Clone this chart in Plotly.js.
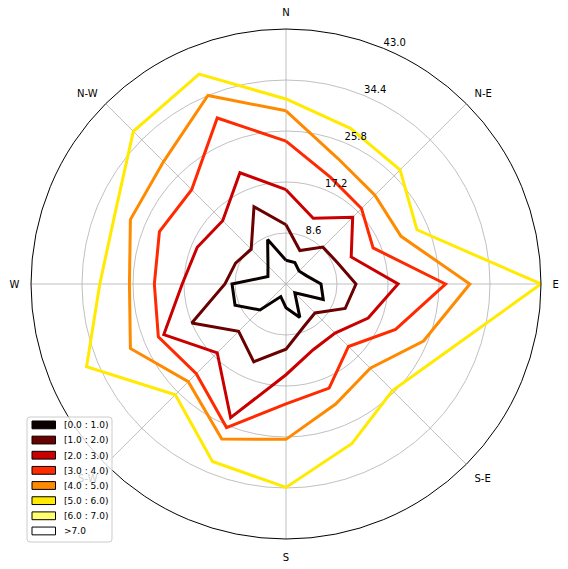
<!DOCTYPE html>
<html><head><meta charset="utf-8">
<script src="https://cdn.plot.ly/plotly-3.0.1.min.js"></script>
<style>html,body{margin:0;padding:0;background:#fff}#chart{width:568px;height:569px}</style>
</head><body><div id="chart"></div>
<script>
// 16 wind directions (degrees clockwise from North)
const directions = [0, 22.5, 45, 67.5, 90, 112.5, 135, 157.5, 180, 202.5, 225, 247.5, 270, 292.5, 315, 337.5];
const gridAngles = [0, 45, 90, 135, 180, 225, 270, 315];
const dirLabels = ['N', 'N-E', 'E', 'S-E', 'S', 'S-W', 'W', 'N-W'];
const radialTicks = [8.6, 17.2, 25.8, 34.4, 43.0];
const radialLabelAngle = 22.5;

const binLabels = ['[0.0 : 1.0)', '[1.0 : 2.0)', '[2.0 : 3.0)', '[3.0 : 4.0)', '[4.0 : 5.0)', '[5.0 : 6.0)', '[6.0 : 7.0)', '>7.0'];
const binColors = ['#0b0000', '#6a0000', '#ca0000', '#ff2a00', '#ff8a00', '#ffea00', '#ffff70', '#ffffff'];

// cumulative radii per speed bin (N, NNE, NE, ... NNW)
const bin_0_1 = [4.0, 3.9, 3.1, 3.7, 5.9, 6.8, 2.1, 6.1, 4.0, 2.3, 6.2, 9.3, 9.1, 3.3, 4.3, 8.1];
const bin_1_2 = [10.0, 6.1, 8.8, 9.4, 11.8, 10.8, 6.9, 7.8, 11.0, 14.2, 11.3, 17.2, 10.3, 9.2, 8.3, 14.1];
const bin_2_3 = [15.9, 12.0, 15.9, 11.9, 18.9, 15.0, 11.7, 12.0, 15.3, 24.4, 16.4, 22.3, 17.5, 16.2, 15.1, 20.3];
const bin_3_4 = [24.1, 19.5, 18.0, 15.9, 26.9, 20.0, 14.9, 19.0, 20.2, 26.2, 21.4, 23.3, 22.2, 23.1, 22.5, 30.3];
const bin_4_5 = [29.2, 22.9, 21.2, 21.0, 31.0, 25.1, 20.1, 21.9, 26.2, 28.3, 23.3, 28.4, 26.4, 28.4, 29.2, 34.4];
const bin_5_6 = [31.2, 28.4, 27.2, 23.9, 43.0, 29.5, 25.4, 29.1, 34.3, 32.4, 26.4, 36.4, 31.4, 31.2, 36.4, 38.3];

const series = [bin_0_1, bin_1_2, bin_2_3, bin_3_4, bin_4_5, bin_5_6];

const W = 568, H = 569;
const fx = px => px / W;
const fy = py => 1 - py / H;

const traces = series.map((vals, i) => ({
  type: 'scatterpolar',
  mode: 'lines',
  r: vals.concat([vals[0]]),
  theta: directions.concat([directions[0]]),
  line: { color: binColors[i], width: 3 },
  name: binLabels[i],
  showlegend: false,
  hoverinfo: 'skip'
}));

// radial tick labels, placed along the 22.5° ray like matplotlib
traces.push({
  type: 'scatterpolar',
  mode: 'text',
  r: radialTicks,
  theta: radialTicks.map(() => radialLabelAngle),
  text: radialTicks.map(v => v.toFixed(1)),
  textposition: 'top right',
  textfont: { family: 'DejaVu Sans', size: 10, color: '#000000' },
  cliponaxis: false,
  showlegend: false,
  hoverinfo: 'skip'
});

// hand-made legend (boxes with black edge, like matplotlib)
const shapes = [];
const annotations = [];
const bx0 = 27, bx1 = 112, by0 = 417, by1 = 542, rr = 3;
shapes.push({
  type: 'path', xref: 'paper', yref: 'paper', layer: 'above',
  path: `M ${fx(bx0 + rr)},${fy(by0)} L ${fx(bx1 - rr)},${fy(by0)} Q ${fx(bx1)},${fy(by0)} ${fx(bx1)},${fy(by0 + rr)} ` +
        `L ${fx(bx1)},${fy(by1 - rr)} Q ${fx(bx1)},${fy(by1)} ${fx(bx1 - rr)},${fy(by1)} ` +
        `L ${fx(bx0 + rr)},${fy(by1)} Q ${fx(bx0)},${fy(by1)} ${fx(bx0)},${fy(by1 - rr)} ` +
        `L ${fx(bx0)},${fy(by0 + rr)} Q ${fx(bx0)},${fy(by0)} ${fx(bx0 + rr)},${fy(by0)} Z`,
  fillcolor: 'rgba(255,255,255,0.8)',
  line: { color: '#cccccc', width: 1 }
});
binLabels.forEach((lab, i) => {
  const cy = 425.3 + i * 15.15;
  shapes.push({
    type: 'rect', xref: 'paper', yref: 'paper', layer: 'above',
    x0: fx(32), x1: fx(55.5), y0: fy(cy - 4.3), y1: fy(cy + 3.5),
    fillcolor: binColors[i], line: { color: '#000000', width: 1 }
  });
  annotations.push({
    xref: 'paper', yref: 'paper', x: fx(62), y: fy(cy),
    xanchor: 'left', yanchor: 'middle', showarrow: false,
    text: lab, font: { family: 'DejaVu Sans', size: 9, color: '#000000' }
  });
});

const layout = {
  width: W, height: H,
  margin: { l: 0, r: 0, t: 0, b: 0 },
  paper_bgcolor: '#ffffff',
  showlegend: false,
  font: { family: 'DejaVu Sans', size: 10, color: '#000000' },
  polar: {
    domain: { x: [fx(31), fx(541)], y: [fy(539), fy(29)] },
    bgcolor: '#ffffff',
    radialaxis: {
      range: [0, 43],
      tickvals: radialTicks,
      showticklabels: false,
      showline: false,
      ticks: '',
      angle: 67.5,
      gridcolor: '#b0b0b0',
      gridwidth: 0.8
    },
    angularaxis: {
      rotation: 90,
      direction: 'clockwise',
      tickmode: 'array',
      tickvals: gridAngles,
      ticktext: dirLabels,
      showline: true,
      linecolor: '#000000',
      linewidth: 1,
      gridcolor: '#b0b0b0',
      gridwidth: 0.8,
      ticks: 'outside',
      ticklen: 9,
      tickcolor: 'rgba(0,0,0,0)',
      tickfont: { family: 'DejaVu Sans', size: 10, color: '#000000' }
    }
  },
  shapes: shapes,
  annotations: annotations
};

Plotly.newPlot('chart', traces, layout, { displayModeBar: false, staticPlot: true });
</script></body></html>
